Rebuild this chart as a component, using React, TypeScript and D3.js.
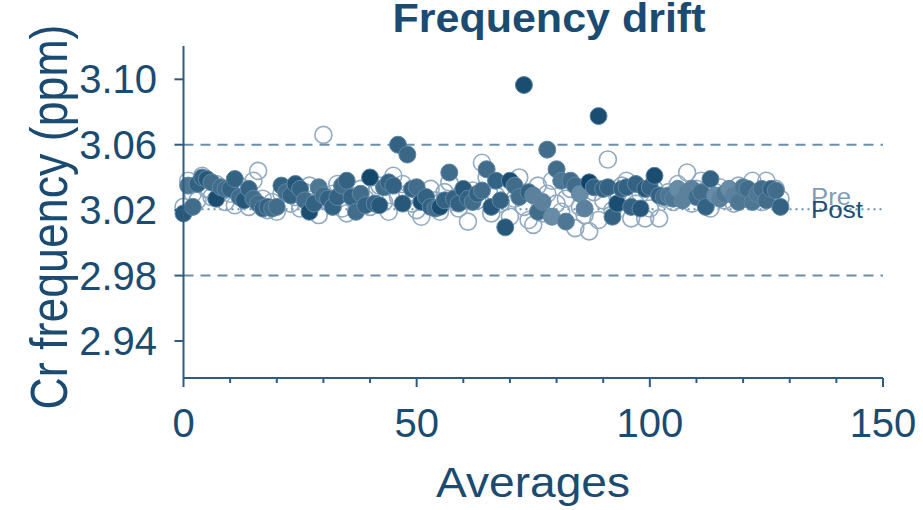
import React from "react";
import * as d3 from "d3";

// ---- data ----
const averages: number[] = Array.from({ length: 129 }, (_, i) => i);

const postValues: number[] = [
  3.018, 3.035, 3.022, 3.036, 3.040, 3.039, 3.037, 3.027, 3.034, 3.033,
  3.033, 3.039, 3.028, 3.026, 3.033, 3.027, 3.024, 3.021, 3.022, 3.021,
  3.022, 3.035, 3.031, 3.029, 3.036, 3.033, 3.026, 3.019, 3.024, 3.034,
  3.029, 3.027, 3.022, 3.028, 3.035, 3.038, 3.028, 3.019, 3.030, 3.023,
  3.040, 3.024, 3.023, 3.034, 3.037, 3.035, 3.060, 3.024, 3.054, 3.033,
  3.034, 3.025, 3.028, 3.022, 3.021, 3.022, 3.026, 3.043, 3.027, 3.024,
  3.033, 3.027, 3.025, 3.030, 3.032, 3.045, 3.022, 3.038, 3.026, 3.0095,
  3.038, 3.035, 3.028, 3.0965, 3.031, 3.029, 3.019, 3.025, 3.057, 3.016,
  3.045, 3.038, 3.013, 3.038, 3.035, 3.030, 3.021, 3.037, 3.034, 3.0775,
  3.033, 3.034, 3.016, 3.024, 3.033, 3.034, 3.022, 3.036, 3.021, 3.033,
  3.034, 3.041, 3.029, 3.028, 3.029, 3.027, 3.033, 3.026, 3.031, 3.033,
  3.028, 3.031, 3.022, 3.039, 3.029, 3.027, 3.030, 3.033, 3.029, 3.025,
  3.034, 3.033, 3.025, 3.030, 3.033, 3.026, 3.033, 3.032, 3.022,
];

// third variable shown as fill lightness of the Post points (0 = dark, 1 = light)
const postShade: number[] = [
  0.2, 0.5, 0.4, 0.3, 0.3, 0.2, 0.4, 0.1, 0.4, 0.4,
  0.3, 0.3, 0.4, 0.2, 0.3, 0.4, 0.4, 0.3, 0.3, 0.4,
  0.4, 0.3, 0.4, 0.3, 0.2, 0.3, 0.4, 0.1, 0.3, 0.5,
  0.4, 0.3, 0.3, 0.3, 0.4, 0.3, 0.3, 0.4, 0.4, 0.3,
  0.05, 0.3, 0.2, 0.4, 0.3, 0.3, 0.3, 0.2, 0.35, 0.3,
  0.4, 0.1, 0.3, 0.3, 0.4, 0.1, 0.3, 0.4, 0.3, 0.3,
  0.2, 0.3, 0.4, 0.3, 0.4, 0.4, 0.2, 0.3, 0.3, 0.2,
  0.1, 0.4, 0.4, 0.1, 0.3, 0.6, 0.4, 0.6, 0.4, 0.7,
  0.4, 0.5, 0.5, 0.4, 0.4, 0.7, 0.6, 0.0, 0.3, 0.1,
  0.3, 0.3, 0.3, 0.1, 0.3, 0.3, 0.3, 0.3, 0.2, 0.2,
  0.3, 0.1, 0.3, 0.4, 0.5, 0.5, 0.7, 0.6, 0.6, 0.6,
  0.4, 0.4, 0.3, 0.3, 0.7, 0.6, 0.5, 0.7, 0.6, 0.5,
  0.5, 0.4, 0.5, 0.5, 0.4, 0.4, 0.3, 0.4, 0.3,
];

const preValues: number[] = [
  3.022, 3.038, 3.030, 3.026, 3.041, 3.033, 3.028, 3.036, 3.031, 3.025,
  3.030, 3.023, 3.035, 3.029, 3.022, 3.038, 3.044, 3.027, 3.020, 3.025,
  3.019, 3.030, 3.033, 3.024, 3.028, 3.021, 3.031, 3.035, 3.027, 3.017,
  3.066, 3.025, 3.030, 3.036, 3.021, 3.018, 3.029, 3.024, 3.033, 3.027,
  3.022, 3.030, 3.035, 3.025, 3.019, 3.041, 3.028, 3.036, 3.030, 3.024,
  3.020, 3.016, 3.027, 3.033, 3.026, 3.019, 3.031, 3.037, 3.025, 3.021,
  3.028, 3.013, 3.032, 3.026, 3.049, 3.040, 3.018, 3.029, 3.024, 3.033,
  3.016, 3.027, 3.040, 3.022, 3.014, 3.011, 3.035, 3.018, 3.030, 3.038,
  3.024, 3.019, 3.027, 3.033, 3.009, 3.022, 3.017, 3.007, 3.031, 3.014,
  3.026, 3.051, 3.020, 3.029, 3.035, 3.038, 3.015, 3.024, 3.030, 3.015,
  3.021, 3.033, 3.015, 3.027, 3.031, 3.025, 3.036, 3.029, 3.043, 3.024,
  3.033, 3.038, 3.027, 3.021, 3.031, 3.034, 3.026, 3.030, 3.024, 3.035,
  3.029, 3.027, 3.038, 3.031, 3.025, 3.038, 3.029, 3.033, 3.027,
];

const yTicks: number[] = [2.94, 2.98, 3.02, 3.06, 3.1];
const xTicks: number[] = [0, 50, 100, 150];
const xMinorTicks: number[] = d3.range(0, 151, 10);
const limitLines: number[] = [3.06, 2.98];
const meanLine = 3.0205;
const seriesLabels: string[] = ["Pre", "Post"];

const TEXT = "#1b4b70";
const AXIS = "#2d5c80";
const FONT = "'Liberation Sans', Arial, Helvetica, sans-serif";

export default function App() {
  const x = d3.scaleLinear().domain([0, 150]).range([183.5, 883]);
  const y = d3.scaleLinear().domain([2.94, 3.1]).range([341, 79.3]);
  const yTop = 46;
  const yBot = 378;
  const shadeColor = d3.interpolateRgb("#0e4367", "#8eabc0");

  return (
    <svg
      width={923}
      height={510}
      style={{ position: "absolute", left: 0, top: 0, background: "#fff" }}
      fontFamily={FONT}
    >
      {/* reference lines */}
      {limitLines.map((v) => (
        <line
          key={"l" + v}
          x1={x(0)}
          x2={x(150)}
          y1={y(v)}
          y2={y(v)}
          stroke="#6a8eab"
          strokeWidth={2}
          strokeDasharray="10,7"
        />
      ))}
      <line
        x1={x(0)}
        x2={x(150)}
        y1={y(meanLine)}
        y2={y(meanLine)}
        stroke="#6a8eab"
        strokeWidth={2}
        strokeDasharray="2,4"
      />

      {/* Pre: open circles */}
      {preValues.map((v, i) => (
        <circle
          key={"pre" + i}
          cx={x(averages[i])}
          cy={y(v)}
          r={8.5}
          fill="none"
          stroke="#93abc0"
          strokeWidth={1.6}
        />
      ))}

      {/* Post: filled circles */}
      {postValues.map((v, i) => (
        <circle
          key={"post" + i}
          cx={x(averages[i])}
          cy={y(v)}
          r={8.5}
          fill={shadeColor(postShade[i])}
          stroke="#5d87a6"
          strokeWidth={1}
        />
      ))}

      {/* series labels */}
      <text x={811} y={205} fontSize={24} fill="#7f9db6" textLength={40} lengthAdjust="spacingAndGlyphs">
        {seriesLabels[0]}
      </text>
      <text x={811} y={218} fontSize={24} fill="#1d4e74" textLength={52} lengthAdjust="spacingAndGlyphs">
        {seriesLabels[1]}
      </text>

      {/* y axis */}
      <line x1={x(0)} x2={x(0)} y1={yTop} y2={yBot} stroke={AXIS} strokeWidth={2} />
      {yTicks.map((t) => (
        <g key={"yt" + t}>
          <line x1={x(0) - 9} x2={x(0)} y1={y(t)} y2={y(t)} stroke={AXIS} strokeWidth={2} />
          <text
            x={157}
            y={y(t) + 14}
            textAnchor="end"
            fontSize={40}
            fill={TEXT}
          >
            {d3.format(".2f")(t)}
          </text>
        </g>
      ))}

      {/* x axis */}
      <line x1={x(0)} x2={x(150)} y1={yBot} y2={yBot} stroke={AXIS} strokeWidth={2} />
      {xMinorTicks.map((t) => (
        <line
          key={"xm" + t}
          x1={x(t)}
          x2={x(t)}
          y1={yBot}
          y2={yBot + (t % 50 === 0 ? 9 : 5)}
          stroke={AXIS}
          strokeWidth={2}
        />
      ))}
      {xTicks.map((t) => (
        <text key={"xt" + t} x={x(t)} y={437} textAnchor="middle" fontSize={40} fill={TEXT}>
          {t}
        </text>
      ))}

      {/* axis titles */}
      <text x={533} y={497} textAnchor="middle" fontSize={42} fill={TEXT} textLength={194} lengthAdjust="spacingAndGlyphs">
        Averages
      </text>
      <text
        transform="translate(67,217) rotate(-90)"
        textAnchor="middle"
        fontSize={52}
        fill={TEXT}
        textLength={385}
        lengthAdjust="spacingAndGlyphs"
      >
        Cr frequency (ppm)
      </text>

      {/* title */}
      <text x={549} y={32} textAnchor="middle" fontSize={41} fontWeight="bold" fill={TEXT} textLength={313} lengthAdjust="spacingAndGlyphs">
        Frequency drift
      </text>
    </svg>
  );
}
